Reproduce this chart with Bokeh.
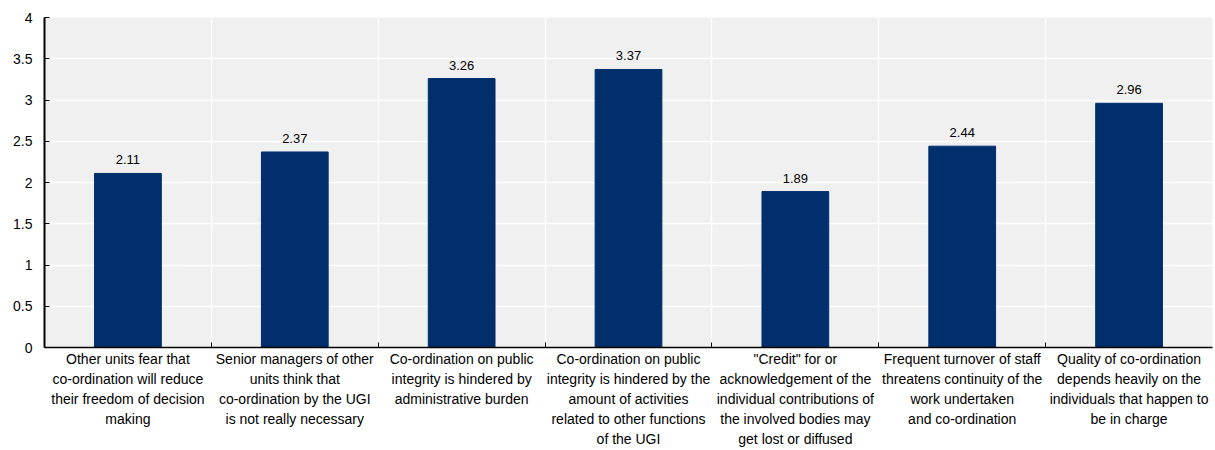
from bokeh.plotting import figure
from bokeh.models import ColumnDataSource, FixedTicker, Range1d, Grid
from bokeh.core.properties import value
from bokeh.embed import file_html
from bokeh.resources import INLINE

categories = [
    "Other units fear that\nco-ordination will reduce\ntheir freedom of decision\nmaking",
    "Senior managers of other\nunits think that\nco-ordination by the UGI\nis not really necessary",
    "Co-ordination on public\nintegrity is hindered by\nadministrative burden",
    "Co-ordination on public\nintegrity is hindered by the\namount of activities\nrelated to other functions\nof the UGI",
    "\"Credit\" for or\nacknowledgement of the\nindividual contributions of\nthe involved bodies may\nget lost or diffused",
    "Frequent turnover of staff\nthreatens continuity of the\nwork undertaken\nand co-ordination",
    "Quality of co-ordination\ndepends heavily on the\nindividuals that happen to\nbe in charge",
]
values = [2.11, 2.37, 3.26, 3.37, 1.89, 2.44, 2.96]
y_ticks = [0, 0.5, 1, 1.5, 2, 2.5, 3, 3.5, 4]
y_tick_labels = ["0", "0.5", "1", "1.5", "2", "2.5", "3", "3.5", "4"]

FONT = "Liberation Sans"
BAR = "#002F6C"

n = len(categories)
xs = [i + 0.5 for i in range(n)]
src = ColumnDataSource(dict(x=xs, top=values, label=[f"{v:.2f}" for v in values]))

p = figure(width=1215, height=450, output_backend="svg", toolbar_location=None,
           x_range=Range1d(0, n), y_range=Range1d(0, 4),
           min_border_left=44, min_border_right=3, min_border_top=17, min_border_bottom=103)
p.background_fill_color = "#F0F0F0"
p.border_fill_color = "white"
p.outline_line_color = None

p.vbar(x="x", top="top", width=0.4, bottom=0, source=src, color=BAR)
p.text(x="x", y="top", text="label", source=src, text_align="center",
       text_baseline="bottom", y_offset=-9, text_font=value(FONT),
       text_font_size="13px", text_color="#000000")

# x axis
p.xaxis.ticker = FixedTicker(ticks=xs, minor_ticks=list(range(1, n)))
p.xaxis.major_label_overrides = {x: c for x, c in zip(xs, categories)}
p.xaxis.major_tick_in = 0
p.xaxis.major_tick_out = 0
p.xaxis.minor_tick_in = 5
p.xaxis.minor_tick_out = 0
p.xaxis.minor_tick_line_color = "black"
p.xaxis.axis_line_color = "black"
p.xaxis.axis_line_width = 1.5
p.xaxis.major_label_text_font = FONT
p.xaxis.major_label_text_font_size = "14px"
p.xaxis.major_label_text_color = "black"
p.xaxis.major_label_standoff = 3
p.xaxis.major_label_text_line_height = 1.26

# y axis
p.yaxis.ticker = FixedTicker(ticks=y_ticks)
p.yaxis.major_label_overrides = {t: l for t, l in zip(y_ticks, y_tick_labels)}
p.yaxis.major_tick_in = 5
p.yaxis.major_tick_out = 0
p.yaxis.minor_tick_line_color = None
p.yaxis.axis_line_color = "black"
p.yaxis.axis_line_width = 2
p.yaxis.major_label_text_font = FONT
p.yaxis.major_label_text_font_size = "14px"
p.yaxis.major_label_text_color = "black"
p.yaxis.major_label_standoff = 12

# grids
p.xgrid.grid_line_color = None
p.ygrid.grid_line_color = "white"
p.ygrid.grid_line_width = 1.5
p.add_layout(Grid(dimension=0, ticker=FixedTicker(ticks=list(range(1, n))),
                  grid_line_color="white", grid_line_width=1.5))

open("out.html", "w").write(file_html(p, INLINE))
